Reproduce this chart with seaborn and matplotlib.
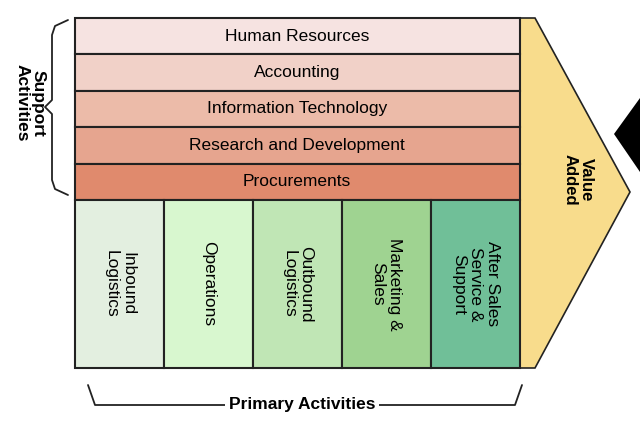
import matplotlib
matplotlib.use("Agg")
import matplotlib.pyplot as plt
import seaborn as sns
from matplotlib.patches import Polygon

sns.set_style("white")
plt.rcParams['font.family'] = ['Liberation Sans', 'DejaVu Sans']
plt.rcParams['text.color'] = 'black'

support = ["Human Resources", "Accounting", "Information Technology",
           "Research and Development", "Procurements"]
support_colors = ["#f6e3e1", "#f1d1c8", "#ecbba9", "#e6a58f", "#e08a6d"]
primary = ["Inbound\nLogistics", "Operations", "Outbound\nLogistics",
           "Marketing &\nSales", "After Sales\nService &\nSupport"]
primary_colors = ["#e3efe0", "#d8f7cf", "#c0e6b5", "#9fd391", "#70bf98"]

fig = plt.figure(figsize=(6.4, 4.34), dpi=100)
ax = fig.add_axes([0, 0, 1, 1])
ax.set_xlim(0, 640); ax.set_ylim(434, 0); ax.axis("off")

ax.add_patch(Polygon([(520, 18), (535, 18), (630, 192), (535, 368), (520, 368)],
                     closed=True, fc="#f8dc8c", ec="#222", lw=1.2))
ax.text(578, 180, "Value\nAdded", rotation=-90, ha="center", va="center",
        fontsize=12, fontweight="bold", linespacing=1.1)

top, rh = 18, 36.4
for i, (lab, c) in enumerate(zip(support, support_colors)):
    y = top + rh * i + rh / 2
    ax.barh(y, 445, height=rh, left=75, color=c, edgecolor="#222", lw=1.5)
    ax.text(297, y, lab, ha="center", va="center", fontsize=12.5)

x0, cw = 75, 89
for i, (lab, c) in enumerate(zip(primary, primary_colors)):
    x = x0 + cw * i + cw / 2
    ax.bar(x, 168, width=cw, bottom=200, color=c, edgecolor="#222", lw=1.5)
    ax.text(x, 284, lab, rotation=-90, ha="center", va="center", fontsize=12.5,
            linespacing=1.15, multialignment="center")

ax.plot([68, 55, 52, 52, 45, 52, 52, 55, 68],
        [20, 26, 35, 100, 107, 114, 180, 189, 195], color="#222", lw=1.3)
ax.text(30, 103, "Support\nActivities", rotation=-90, ha="center", va="center",
        fontsize=12.5, fontweight="bold", linespacing=1.1)

ax.plot([88, 95, 515, 522], [385, 405, 405, 385], color="#222", lw=1.3)
ax.text(302, 405, "Primary Activities", ha="center", va="center", fontsize=12.5,
        fontweight="bold", bbox=dict(fc="white", ec="none", pad=3))

ax.add_patch(Polygon([(640, 98), (614, 134), (640, 172)], closed=True, fc="black", ec="none"))

fig.savefig("out.png", dpi=100)
